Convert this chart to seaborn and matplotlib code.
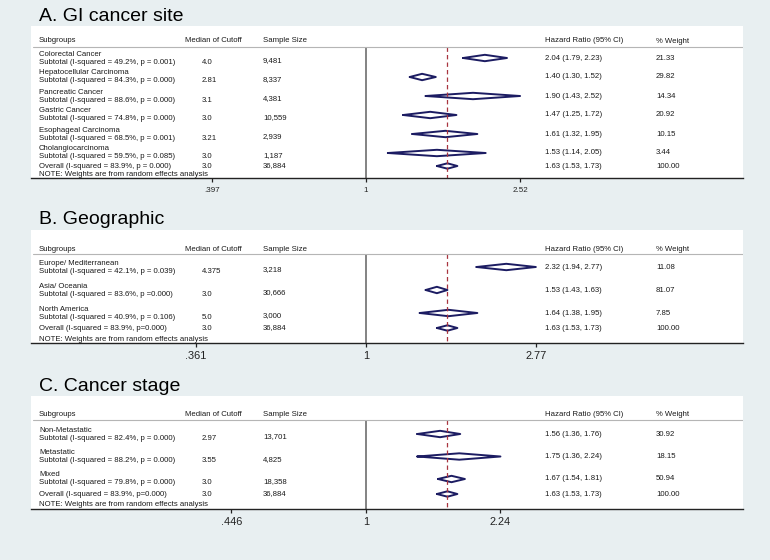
import numpy as np
import pandas as pd
import matplotlib
matplotlib.use("Agg")
import matplotlib.pyplot as plt
import seaborn as sns

# -----------------------------------
# Data
# -----------------------------------

# A. GI cancer site
gi_names = ["Colorectal Cancer", "Hepatocellular Carcinoma", "Pancreatic Cancer",
            "Gastric Cancer", "Esophageal Carcinoma", "Cholangiocarcinoma"]
gi_subtotal = ["Subtotal (I-squared = 49.2%, p = 0.001)",
               "Subtotal (I-squared = 84.3%, p = 0.000)",
               "Subtotal (I-squared = 88.6%, p = 0.000)",
               "Subtotal (I-squared = 74.8%, p = 0.000)",
               "Subtotal (I-squared = 68.5%, p = 0.001)",
               "Subtotal (I-squared = 59.5%, p = 0.085)"]
gi_cutoff = ["4.0", "2.81", "3.1", "3.0", "3.21", "3.0"]
gi_n = ["9,481", "8,337", "4,381", "10,559", "2,939", "1,187"]
gi_hr = [2.04, 1.40, 1.90, 1.47, 1.61, 1.53]
gi_lo = [1.79, 1.30, 1.43, 1.25, 1.32, 1.14]
gi_hi = [2.33, 1.52, 2.52, 1.72, 1.95, 2.05]
gi_hr_text = ["2.04 (1.79, 2.23)", "1.40 (1.30, 1.52)", "1.90 (1.43, 2.52)",
              "1.47 (1.25, 1.72)", "1.61 (1.32, 1.95)", "1.53 (1.14, 2.05)"]
gi_weight = ["21.33", "29.82", "14.34", "20.92", "10.15", "3.44"]
gi_overall_label = "Overall (I-squared = 83.9%, p = 0.000)"
gi_ticks = [0.397, 1, 2.52]
gi_ticklabels = [".397", "1", "2.52"]

# B. Geographic
geo_names = ["Europe/ Mediterranean", "Asia/ Oceania", "North America"]
geo_subtotal = ["Subtotal (I-squared = 42.1%, p = 0.039)",
                "Subtotal (I-squared = 83.6%, p =0.000)",
                "Subtotal (I-squared = 40.9%, p = 0.106)"]
geo_cutoff = ["4.375", "3.0", "5.0"]
geo_n = ["3,218", "30,666", "3,000"]
geo_hr = [2.32, 1.53, 1.64]
geo_lo = [1.94, 1.43, 1.38]
geo_hi = [2.77, 1.63, 1.95]
geo_hr_text = ["2.32 (1.94, 2.77)", "1.53 (1.43, 1.63)", "1.64 (1.38, 1.95)"]
geo_weight = ["11.08", "81.07", "7.85"]
geo_overall_label = "Overall (I-squared = 83.9%, p=0.000)"
geo_ticks = [0.361, 1, 2.77]
geo_ticklabels = [".361", "1", "2.77"]

# C. Cancer stage
stage_names = ["Non-Metastatic", "Metastatic", "Mixed"]
stage_subtotal = ["Subtotal (I-squared = 82.4%, p = 0.000)",
                  "Subtotal (I-squared = 88.2%, p = 0.000)",
                  "Subtotal (I-squared = 79.8%, p = 0.000)"]
stage_cutoff = ["2.97", "3.55", "3.0"]
stage_n = ["13,701", "4,825", "18,358"]
stage_hr = [1.56, 1.75, 1.67]
stage_lo = [1.36, 1.36, 1.54]
stage_hi = [1.76, 2.24, 1.81]
stage_hr_text = ["1.56 (1.36, 1.76)", "1.75 (1.36, 2.24)", "1.67 (1.54, 1.81)"]
stage_weight = ["30.92", "18.15", "50.94"]
stage_overall_label = "Overall (I-squared = 83.9%, p=0.000)"
stage_ticks = [0.446, 1, 2.24]
stage_ticklabels = [".446", "1", "2.24"]

# Overall pooled estimate (same in every panel)
overall_hr = 1.63
overall_lo = 1.53
overall_hi = 1.73
overall_hr_text = "1.63 (1.53, 1.73)"
overall_cutoff = "3.0"
overall_n = "36,884"
overall_weight = "100.00"

headers = ["Subgroups", "Median of Cutoff", "Sample Size", "Hazard Ratio (95% CI)", "% Weight"]
note = "NOTE: Weights are from random effects analysis"

# -----------------------------------
# Style
# -----------------------------------

sns.set_style("white")
plt.rcParams["font.family"] = ["Liberation Sans", "DejaVu Sans"]

BG = "#e8eff1"
NAVY = "#1c1c62"
RED = "#a8343f"
TXT = "#1a1a1a"

W, H = 770, 560
fig = plt.figure(figsize=(W / 100, H / 100), dpi=100)
fig.patch.set_facecolor(BG)

# pixel layout of each panel (from top of the figure)
panels = [
    dict(title="A. GI cancer site", names=gi_names, subtotal=gi_subtotal, cutoff=gi_cutoff,
         n=gi_n, hr=gi_hr, lo=gi_lo, hi=gi_hi, hr_text=gi_hr_text, weight=gi_weight,
         overall_label=gi_overall_label, ticks=gi_ticks, ticklabels=gi_ticklabels,
         top=26, bottom=178, title_y=21, header=41, header_line=47,
         first=58, step=19, overall=166, note=174, tick_fs=5.8, pad=3.5),
    dict(title="B. Geographic", names=geo_names, subtotal=geo_subtotal, cutoff=geo_cutoff,
         n=geo_n, hr=geo_hr, lo=geo_lo, hi=geo_hi, hr_text=geo_hr_text, weight=geo_weight,
         overall_label=geo_overall_label, ticks=geo_ticks, ticklabels=geo_ticklabels,
         top=230, bottom=343, title_y=224, header=249, header_line=254,
         first=267, step=23, overall=328, note=339, tick_fs=7.9, pad=2.5),
    dict(title="C. Cancer stage", names=stage_names, subtotal=stage_subtotal, cutoff=stage_cutoff,
         n=stage_n, hr=stage_hr, lo=stage_lo, hi=stage_hi, hr_text=stage_hr_text,
         weight=stage_weight, overall_label=stage_overall_label, ticks=stage_ticks,
         ticklabels=stage_ticklabels,
         top=396, bottom=509, title_y=391, header=414, header_line=420,
         first=434, step=22.5, overall=494, note=505, tick_fs=7.9, pad=2.5),
]

X0, X1 = 31, 743          # white box in pixels
X_ONE = 366               # pixel of HR = 1
PX_PER_LN = 166.7         # pixels per ln unit
xmin = np.exp(-(X_ONE - X0) / PX_PER_LN)
xmax = np.exp((X1 - X_ONE) / PX_PER_LN)

# column x positions (axes fraction)
def colx(px):
    return (px - X0) / (X1 - X0)

col_name = colx(39)
col_head_cut = colx(185)
col_cut = colx(202)
col_n = colx(263)
col_hr = colx(545)
col_w = colx(656)

fs = 5.6
half_h = 3.2
half_h_overall = 2.7

for p in panels:
    ax = fig.add_axes([X0 / W, 1 - p["bottom"] / H, (X1 - X0) / W, (p["bottom"] - p["top"]) / H])
    ax.set_facecolor("white")
    ax.set_xscale("log")
    ax.set_xlim(xmin, xmax)
    ax.set_ylim(p["bottom"], p["top"])

    k = len(p["names"])
    rows = [p["first"] + p["step"] * i for i in range(k)]

    # diamonds as closed polygons, drawn with seaborn
    recs = []
    for i in range(k):
        y = rows[i]
        pts = [(p["lo"][i], y), (p["hr"][i], y - half_h), (p["hi"][i], y),
               (p["hr"][i], y + half_h), (p["lo"][i], y)]
        for j, (xx, yy) in enumerate(pts):
            recs.append(dict(id=i, order=j, x=xx, y=yy))
    y = p["overall"]
    pts = [(overall_lo, y), (overall_hr, y - half_h_overall), (overall_hi, y),
           (overall_hr, y + half_h_overall), (overall_lo, y)]
    for j, (xx, yy) in enumerate(pts):
        recs.append(dict(id=k, order=j, x=xx, y=yy))
    dd = pd.DataFrame(recs)
    sns.lineplot(data=dd, x="x", y="y", units="id", estimator=None, sort=False,
                 color=NAVY, linewidth=1.4, ax=ax)

    # reference lines
    ax.vlines(1, p["header_line"], p["bottom"], color="#7a7a7a", linewidth=1.3)
    ax.vlines(overall_hr, p["header_line"], p["bottom"], color=RED, linewidth=0.9,
              linestyles=(0, (3.5, 2.5)))
    ax.axhline(p["header_line"], xmin=colx(33), xmax=1, color="#b5b5b5", linewidth=0.8)

    # text columns
    tr = ax.get_yaxis_transform()
    hy = p["header"]
    ax.text(col_name, hy, headers[0], transform=tr, fontsize=fs, va="center", color=TXT)
    ax.text(col_head_cut, hy, headers[1], transform=tr, fontsize=fs, va="center", color=TXT)
    ax.text(col_n, hy, headers[2], transform=tr, fontsize=fs, va="center", color=TXT)
    ax.text(col_hr, hy, headers[3], transform=tr, fontsize=fs, va="center", color=TXT)
    ax.text(col_w, hy + 0.5, headers[4], transform=tr, fontsize=fs, va="center", color=TXT)

    for i in range(k):
        r = rows[i]
        ax.text(col_name, r - 4, p["names"][i], transform=tr, fontsize=fs, va="center", color=TXT)
        ax.text(col_name, r + 4, p["subtotal"][i], transform=tr, fontsize=fs, va="center", color=TXT)
        ax.text(col_cut, r + 4, p["cutoff"][i], transform=tr, fontsize=fs, va="center", color=TXT)
        ax.text(col_n, r + 3, p["n"][i], transform=tr, fontsize=fs, va="center", color=TXT)
        ax.text(col_hr, r, p["hr_text"][i], transform=tr, fontsize=fs, va="center", color=TXT)
        ax.text(col_w, r, p["weight"][i], transform=tr, fontsize=fs, va="center", color=TXT)

    oy = p["overall"]
    ax.text(col_name, oy, p["overall_label"], transform=tr, fontsize=fs, va="center", color=TXT)
    ax.text(col_cut, oy, overall_cutoff, transform=tr, fontsize=fs, va="center", color=TXT)
    ax.text(col_n, oy, overall_n, transform=tr, fontsize=fs, va="center", color=TXT)
    ax.text(col_hr, oy, overall_hr_text, transform=tr, fontsize=fs, va="center", color=TXT)
    ax.text(col_w, oy, overall_weight, transform=tr, fontsize=fs, va="center", color=TXT)
    ax.text(col_name, p["note"], note, transform=tr, fontsize=fs, va="center", color=TXT)

    # axes
    ax.set_xticks(p["ticks"])
    ax.set_xticklabels(p["ticklabels"])
    ax.xaxis.set_minor_locator(matplotlib.ticker.NullLocator())
    ax.tick_params(axis="x", direction="out", length=3, width=0.9, pad=p["pad"],
                   labelsize=p["tick_fs"], colors="#222222", bottom=True)
    ax.set_yticks([])
    ax.set_xlabel("")
    ax.set_ylabel("")
    for s in ["top", "left", "right"]:
        ax.spines[s].set_visible(False)
    ax.spines["bottom"].set_color("#222222")
    ax.spines["bottom"].set_linewidth(1.0)

    fig.text(39 / W, 1 - p["title_y"] / H, p["title"], fontsize=14, va="baseline",
             ha="left", color="black")

plt.savefig("out.png", dpi=100, facecolor=BG)
